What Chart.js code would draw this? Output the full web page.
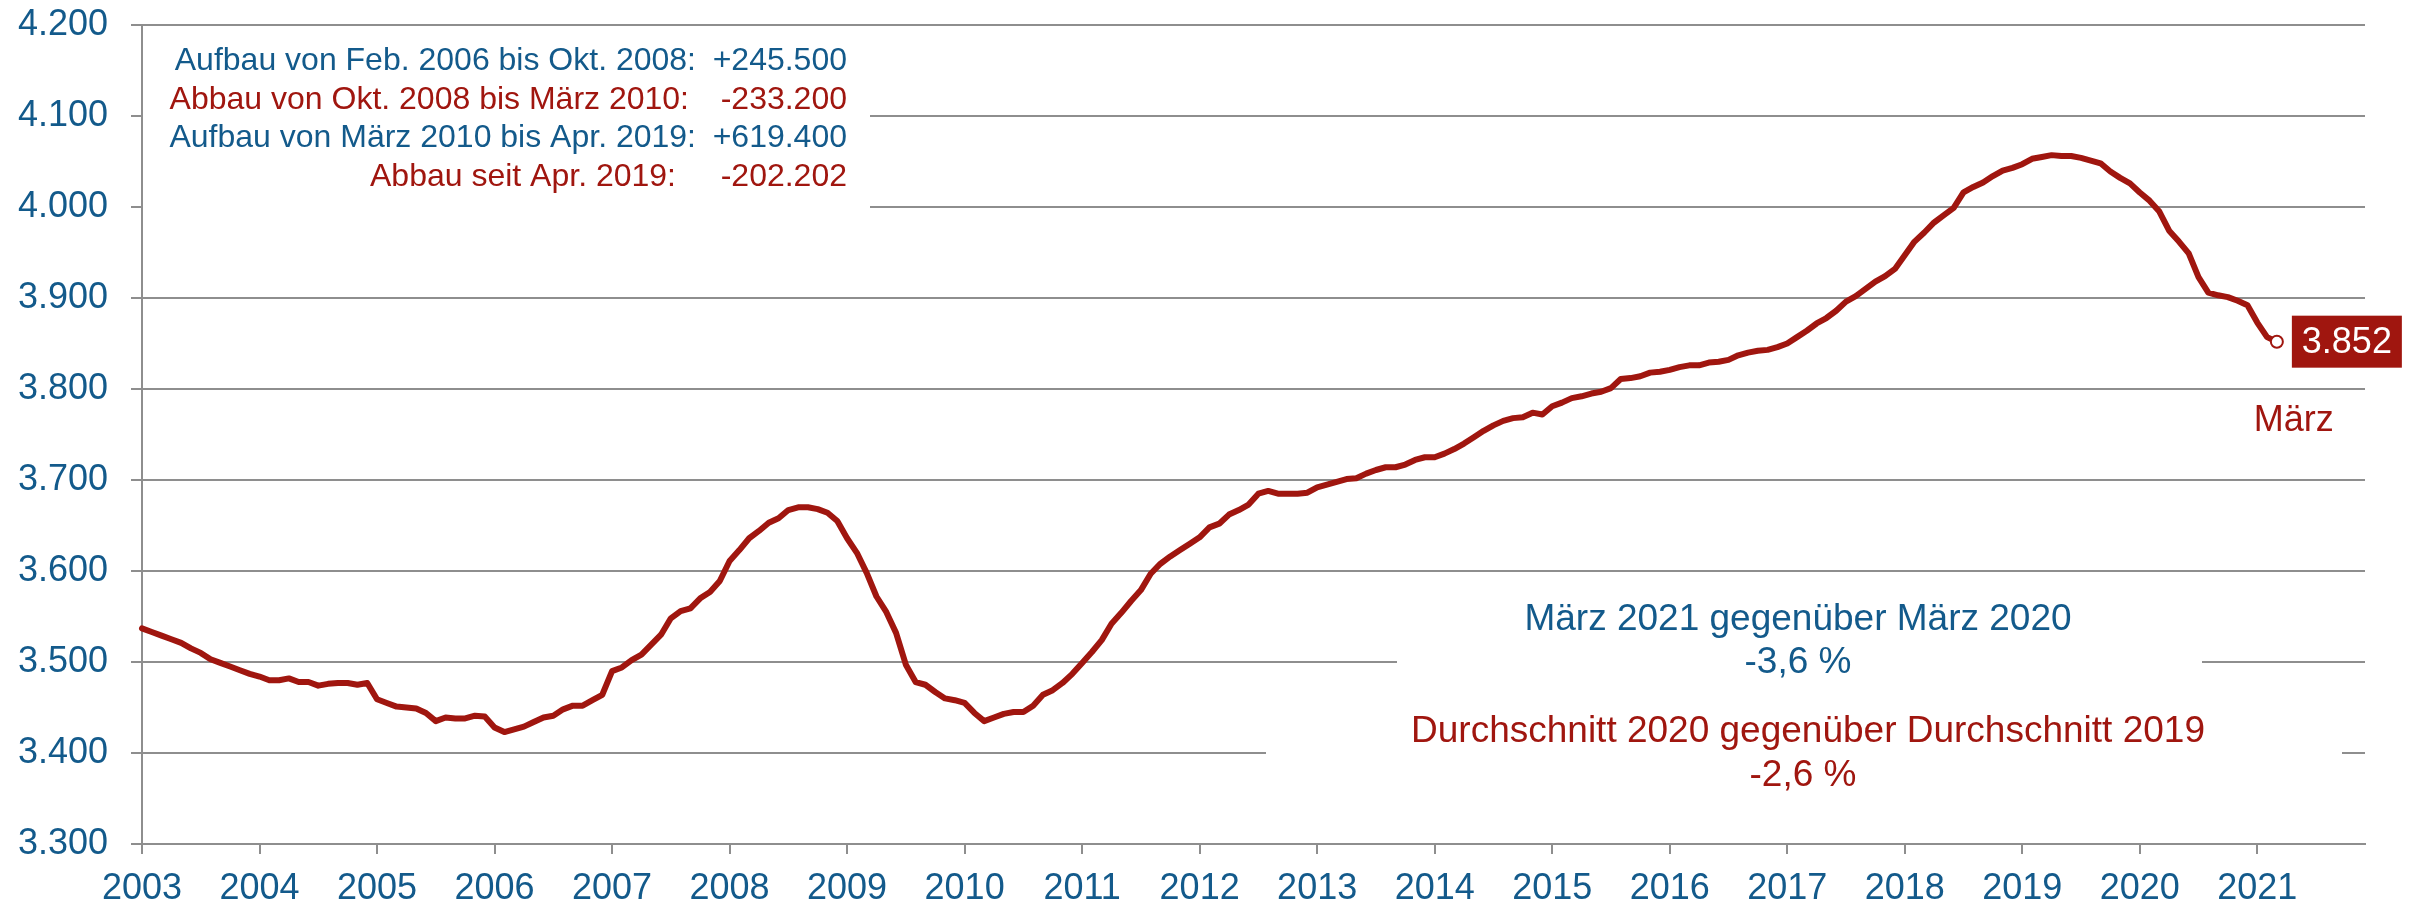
<!DOCTYPE html>
<html>
<head>
<meta charset="utf-8">
<script src="https://cdn.jsdelivr.net/npm/chart.js@4"></script>
<style>
  html, body { margin: 0; padding: 0; background: #fff; }
  #wrap { width: 2419px; height: 905px; }
</style>
</head>
<body>
<div id="wrap"><canvas id="jobChart"></canvas></div>
<script>
// Beschäftigte (in Tsd.), monatlich ab Jan. 2003
const years = [2003, 2004, 2005, 2006, 2007, 2008, 2009, 2010, 2011, 2012,
               2013, 2014, 2015, 2016, 2017, 2018, 2019, 2020, 2021];
const values = [
  3537, 3533, 3529, 3525, 3521, 3515, 3510, 3503, 3499, 3495, 3491, 3487, // 2003
  3484, 3480, 3480, 3482, 3478, 3478, 3474, 3476, 3477, 3477, 3475, 3477, // 2004
  3459, 3455, 3451, 3450, 3449, 3444, 3435, 3439, 3438, 3438, 3441, 3440, // 2005
  3428, 3423, 3426, 3429, 3434, 3439, 3441, 3448, 3452, 3452, 3458, 3464, // 2006
  3490, 3494, 3502, 3508, 3519, 3530, 3548, 3556, 3559, 3570, 3577, 3589, // 2007
  3611, 3623, 3636, 3644, 3653, 3658, 3667, 3670, 3670, 3668, 3664, 3655, // 2008
  3636, 3620, 3598, 3572, 3555, 3532, 3497, 3478, 3475, 3467, 3460, 3458, // 2009
  3455, 3444, 3435, 3439, 3443, 3445, 3445, 3452, 3464, 3469, 3477, 3487, // 2010
  3499, 3511, 3524, 3542, 3554, 3567, 3579, 3597, 3608, 3616, 3623, 3630, // 2011
  3637, 3648, 3652, 3662, 3667, 3673, 3685, 3688, 3685, 3685, 3685, 3686, // 2012
  3692, 3695, 3698, 3701, 3702, 3707, 3711, 3714, 3714, 3717, 3722, 3725, // 2013
  3725, 3729, 3734, 3740, 3747, 3754, 3760, 3765, 3768, 3769, 3774, 3772, // 2014
  3781, 3785, 3790, 3792, 3795, 3797, 3801, 3811, 3812, 3814, 3818, 3819, // 2015
  3821, 3824, 3826, 3826, 3829, 3830, 3832, 3837, 3840, 3842, 3843, 3846, // 2016
  3850, 3857, 3864, 3872, 3878, 3886, 3896, 3902, 3910, 3918, 3924, 3932, // 2017
  3947, 3962, 3972, 3983, 3991, 3999, 4016, 4022, 4027, 4034, 4040, 4043, // 2018
  4047, 4053, 4055, 4057, 4056, 4056, 4054, 4051, 4048, 4039, 4032, 4026, // 2019
  4016, 4007, 3995, 3974, 3962, 3949, 3923, 3906, 3903, 3901, 3897, 3892, // 2020
  3873, 3857, 3852                                                        // 2021
];
const yMin = 3300, yMax = 4200, yStep = 100;

const summaryLines = [
  { label: 'Aufbau von Feb. 2006 bis Okt. 2008:', value: '+245.500', color: 'blue' },
  { label: 'Abbau von Okt. 2008 bis März 2010:', value: '-233.200', color: 'red' },
  { label: 'Aufbau von März 2010 bis Apr. 2019:', value: '+619.400', color: 'blue' },
  { label: 'Abbau seit Apr. 2019:', value: '-202.202', color: 'red' }
];
const compareLines = [
  { text: 'März 2021 gegenüber März 2020', color: 'blue' },
  { text: '-3,6 %', color: 'blue' },
  { text: 'Durchschnitt 2020 gegenüber Durchschnitt 2019', color: 'red' },
  { text: '-2,6 %', color: 'red' }
];
const lastLabel = '3.852';
const lastMonth = 'März';

const BLUE = '#135a8b';
const RED = '#a0160f';
const GRID = '#8e8e8e';
const FONT = "'Liberation Sans', Arial, sans-serif";

// one category per month, Jan 2003 .. Dec 2021
const labels = [];
years.forEach(y => { for (let m = 1; m <= 12; m++) labels.push(y + '-' + m); });

function fmt(v) {
  return String(v).replace(/\B(?=(\d{3})+(?!\d))/g, '.');
}

const overlay = {
  id: 'overlay',
  beforeDatasetsDraw(chart) {
    const c = chart.ctx;
    c.save();
    c.fillStyle = '#fff';
    c.fillRect(143, 30, 727, 182);
    c.fillRect(1397, 590, 805, 110);
    c.fillRect(1266, 700, 1076, 130);
    c.restore();
  },
  afterDraw(chart) {
    const c = chart.ctx;
    c.save();
    c.textBaseline = 'alphabetic';

    // summary block top left
    c.font = '32px ' + FONT;
    const labelRight = [696, 689, 696, 676];
    summaryLines.forEach((l, i) => {
      c.fillStyle = l.color === 'blue' ? BLUE : RED;
      const y = 70 + i * 38.7;
      c.textAlign = 'right';
      c.fillText(l.label, labelRight[i], y);
      c.fillText(l.value, 847, y);
    });

    // comparison texts
    c.font = '37px ' + FONT;
    c.textAlign = 'center';
    const cx = [1798, 1798, 1808, 1803];
    const cy = [630, 673, 742, 786];
    compareLines.forEach((l, i) => {
      c.fillStyle = l.color === 'blue' ? BLUE : RED;
      c.fillText(l.text, cx[i], cy[i]);
    });

    // end value box
    c.font = '36px ' + FONT;
    const meta = chart.getDatasetMeta(0);
    const pt = meta.data[values.length - 1];
    const bx = pt.x + 15, bw = 110, bh = 52;
    c.fillStyle = RED;
    c.fillRect(bx, pt.y - bh / 2, bw, bh);
    c.fillStyle = '#fff';
    c.textAlign = 'center';
    c.textBaseline = 'middle';
    c.fillText(lastLabel, bx + bw / 2, pt.y + 1);
    c.fillStyle = RED;
    c.textBaseline = 'alphabetic';
    c.fillText(lastMonth, pt.x + 17, pt.y + 89);
    c.restore();
  }
};

const ctx = document.getElementById('jobChart').getContext('2d');
new Chart(ctx, {
  type: 'line',
  data: {
    labels: labels,
    datasets: [{
      data: values,
      borderColor: RED,
      borderWidth: 6,
      borderJoinStyle: 'round',
      borderCapStyle: 'round',
      tension: 0,
      fill: false,
      pointRadius: c => c.dataIndex === values.length - 1 ? 6 : 0,
      pointBackgroundColor: '#fff',
      pointBorderColor: RED,
      pointBorderWidth: 2
    }]
  },
  options: {
    responsive: true,
    maintainAspectRatio: false,
    animation: false,
    devicePixelRatio: 1,
    layout: { padding: { top: 25, right: 54, left: 0, bottom: 0 } },
    plugins: { legend: { display: false }, tooltip: { enabled: false } },
    scales: {
      x: {
        grid: { drawOnChartArea: false, drawTicks: true, tickLength: 10, color: GRID, lineWidth: 2 },
        border: { display: true, color: GRID, width: 2 },
        ticks: {
          autoSkip: false,
          maxRotation: 0,
          padding: 13,
          color: BLUE,
          font: { family: FONT, size: 36 },
          callback: (val, idx) => idx % 12 === 0 ? String(years[idx / 12]) : null
        },
        afterFit: s => { s.height = 61; }
      },
      y: {
        min: yMin,
        max: yMax,
        grid: { color: GRID, lineWidth: 2, tickLength: 11 },
        border: { display: true, color: GRID, width: 2 },
        ticks: {
          stepSize: yStep,
          padding: 23,
          color: BLUE,
          font: { family: FONT, size: 36 },
          callback: v => fmt(v)
        },
        afterFit: s => { s.width = 142; s.paddingTop = 0; s.paddingBottom = 0; }
      }
    }
  },
  plugins: [overlay]
});
</script>
</body>
</html>
